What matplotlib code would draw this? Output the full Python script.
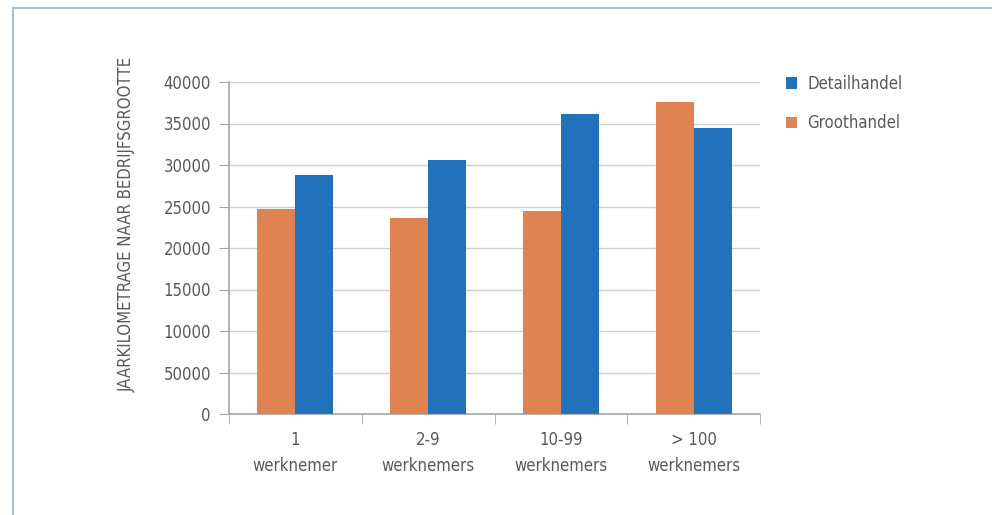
import matplotlib.pyplot as plt
import numpy as np
from matplotlib.lines import Line2D

categories = ['1\nwerknemer', '2-9\nwerknemers', '10-99\nwerknemers', '> 100\nwerknemers']
groothandel = [24700, 23600, 24450, 37600]
detailhandel = [28800, 30550, 36150, 34450]
ytick_vals = [0, 5000, 10000, 15000, 20000, 25000, 30000, 35000, 40000]
ytick_labels = ['0', '50000', '10000', '15000', '20000', '25000', '30000', '35000', '40000']

plt.rcParams['font.family'] = ['DejaVu Sans']
plt.rcParams['font.stretch'] = 'condensed'
grey = '#595959'
orange = '#e08353'
blue = '#2271bb'
fs = 12

fig = plt.figure(figsize=(9.92, 5.15), dpi=100)
ax = fig.add_axes([229 / 992, 1 - 414 / 515, (760 - 229) / 992, (414 - 82) / 515])

x = np.arange(len(categories))
w = 0.287
ax.bar(x - w / 2, groothandel, w, color=orange, label='Groothandel', zorder=3)
ax.bar(x + w / 2, detailhandel, w, color=blue, label='Detailhandel', zorder=3)

ax.set_xlim(-0.5, len(categories) - 0.5)
ax.set_ylim(0, 40000)
ax.set_yticks(ytick_vals)
ax.set_yticklabels(ytick_labels)
ax.set_xticks(x)
ax.set_xticklabels(categories, linespacing=1.6)
ax.set_xticks(np.arange(len(categories) + 1) - 0.5, minor=True)
ax.tick_params(axis='x', which='major', length=0, pad=12, labelsize=fs, labelcolor=grey)
ax.tick_params(axis='x', which='minor', length=7, color='#a6a6a6', direction='out')
ax.tick_params(axis='y', length=7, color='#a6a6a6', pad=6, labelsize=fs, labelcolor=grey)
ax.grid(axis='y', color='#d0d0d0', linewidth=1, zorder=0)
for s in ['top', 'right']:
    ax.spines[s].set_visible(False)
for s in ['left', 'bottom']:
    ax.spines[s].set_color('#a6a6a6')
    ax.spines[s].set_linewidth(1.2)

ax.set_ylabel('JAARKILOMETRAGE NAAR BEDRIJFSGROOTTE', color=grey, fontsize=fs)
ax.yaxis.set_label_coords(-0.175, 0.57)

handles, labels = ax.get_legend_handles_labels()
leg = ax.legend(handles[::-1], labels[::-1], loc='upper left', bbox_to_anchor=(1.02, 1.067),
                frameon=False, fontsize=fs, labelcolor=grey, handlelength=0.7,
                handleheight=0.7, handletextpad=0.6, labelspacing=1.3)

# light blue frame
fig.add_artist(Line2D([13 / 992, 13 / 992], [0, 1 - 8 / 515], color='#a9bde0', lw=1.5))
fig.add_artist(Line2D([13 / 992, 1], [1 - 8 / 515, 1 - 8 / 515], color='#a9bde0', lw=1.5))

fig.savefig('out.png', dpi=100)
